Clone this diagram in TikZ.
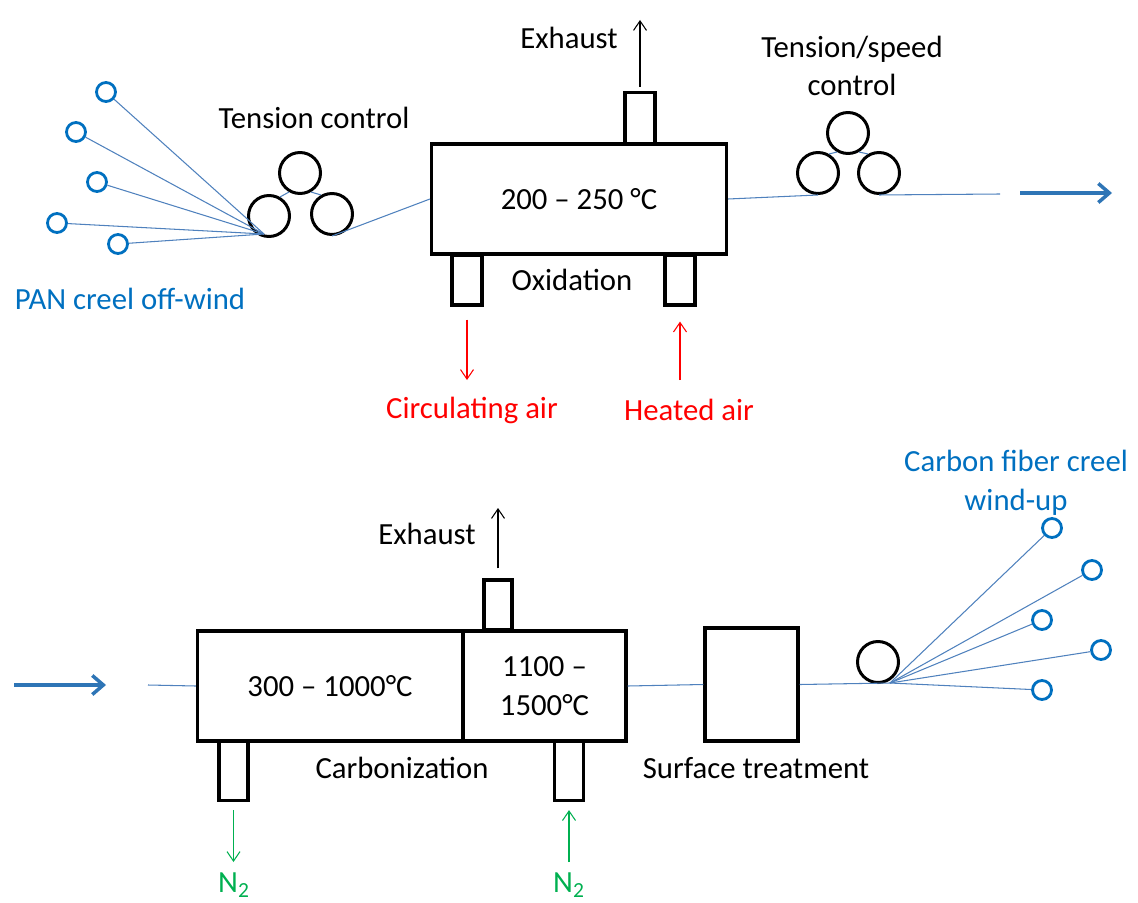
\documentclass[tikz,border=0pt]{standalone}
\usepackage{fontspec}
\setmainfont{Carlito}
\usetikzlibrary{arrows.meta}
\usetikzlibrary{positioning}
\definecolor{creelblue}{RGB}{0,112,192}
\definecolor{fiberblue}{RGB}{79,129,189}
\definecolor{feedblue}{RGB}{46,117,182}
\definecolor{airred}{RGB}{255,0,0}
\definecolor{gasgreen}{RGB}{0,176,80}

\begin{document}
\begin{tikzpicture}[x=0.02cm,y=-0.02cm,>={Straight Barb[length=1.9mm,width=2.6mm]},
    every node/.style={font=\fontsize{17.5}{22}\selectfont},
    oven box/.style={rectangle,draw,line width=1.8pt,inner sep=0pt},
    roller node/.style={circle,draw,line width=1.7pt,inner sep=0pt,minimum size=0.82cm},
    creel node/.style={circle,draw=creelblue,line width=1.6pt,inner sep=0pt,minimum size=0.38cm},
    fiber line/.style={-,color=fiberblue,line width=0.6pt},
    feed arrow/.style={-{Straight Barb[length=2.2mm,width=3.8mm]},color=feedblue,line width=2pt},
    exhaust arrow/.style={->,line width=0.6pt},
    air arrow/.style={->,color=airred,line width=0.6pt},
    gas arrow/.style={->,color=gasgreen,line width=0.6pt}]
  \useasboundingbox (0,0) rectangle (1138,902);

  % oxidation line
  \begin{scope}
    \node[creel node] (p1) at (106,92) {};
    \node[creel node] (p2) at (76,132) {};
    \node[creel node] (p3) at (97,182) {};
    \node[creel node] (p4) at (57,223) {};
    \node[creel node] (p5) at (118,244) {};
    \coordinate (pin) at (264,234);
    \node[roller node] (tl) at (269,216) {};
    \node[roller node] (tt) at (300,173) {};
    \node[roller node] (tr) at (332,214) {};
    \node (tctxt) at (314,118) {Tension control};
    \node[text=creelblue] (pantxt) at (130,299) {PAN creel off-wind};

    \node[oven box,minimum width=0.6cm,minimum height=1.02cm] (oxtop) at (640,118) {};
    \node[oven box,minimum width=0.6cm,minimum height=1.0cm] (oxlegl) at (467,280) {};
    \node[oven box,minimum width=0.6cm,minimum height=1.0cm] (oxlegr) at (680,280) {};
    \node[oven box,fill=white,minimum width=5.9cm,minimum height=2.2cm] (ox) at (579,199) {200 -- 250 °C};
    \node (oxtxt) at (572,280) {Oxidation};
    \node (oxexhtxt) at (569,38) {Exhaust};
    \coordinate (oxexh) at (640,20);
    \node[text=airred] (circtxt) at (472,410) {Circulating air};
    \node[text=airred] (heattxt) at (689,410) {Heated air};
    \coordinate (circout) at (467,380);
    \coordinate (heatin) at (680,380);

    \node[roller node] (sl) at (818,173) {};
    \node[roller node] (st) at (848,133) {};
    \node[roller node] (sr) at (879,173) {};
    \node[align=center] (tstxt) at (852,66) {Tension/speed\\control};
    \coordinate (oxend) at (1000,194);
    \coordinate (feeda) at (1020,193);
    \coordinate (feedb) at (1112,193);

    \path[fiber line] (p1) edge (pin) (p2) edge (pin) (p3) edge (pin)
      (p4) edge (pin) (p5) edge (pin);
    \path[fiber line] (tl.60) edge (tt.240) (tt.300) edge (tr.120);
    \path[fiber line] (tr.south) edge (ox.west);
    \path[fiber line] (ox.east) edge (sl.south);
    \path[fiber line] (sl.60) edge (st.240) (st.300) edge (sr.120);
    \path[fiber line] (sr.south) edge (oxend);
    \path[feed arrow] (feeda) edge (feedb);
    \path[exhaust arrow] (oxtop) edge[shorten <=0.08cm] (oxexh);
    \path[air arrow] (oxlegl) edge[shorten <=0.26cm] (circout);
    \path[air arrow] (heatin) edge[shorten >=0.3cm] (oxlegr);
  \end{scope}

  % carbonization line
  \begin{scope}
    \coordinate (feedc) at (14,685);
    \coordinate (feedd) at (106,685);
    \coordinate (czin) at (148,685);
    \node[oven box,minimum width=0.56cm,minimum height=1.0cm] (cztop) at (498,605) {};
    \node[oven box,minimum width=0.58cm,minimum height=1.18cm] (czl) at (233.5,771) {};
    \node[oven box,minimum width=0.58cm,minimum height=1.18cm] (czr) at (569,771) {};
    \node[oven box,fill=white,minimum width=5.3cm,minimum height=2.2cm] (cz1) at (330,686) {300 -- 1000°C};
    \node[oven box,fill=white,minimum width=3.26cm,minimum height=2.2cm,align=center] (cz2) at (544.5,686) {1100 --\\1500°C};
    \node (cztxt) at (402,768) {Carbonization};
    \node (czexhtxt) at (427,534) {Exhaust};
    \coordinate (czexh) at (498,508);
    \node[text=gasgreen] (n2a) at (234,885) {N\textsubscript{2}};
    \node[text=gasgreen] (n2b) at (569,885) {N\textsubscript{2}};
    \coordinate (n2out) at (233.5,862);
    \coordinate (n2in) at (569,862);

    \node[oven box,minimum width=1.86cm,minimum height=2.26cm] (surf) at (751.5,684.5) {};
    \node (surftxt) at (756,768) {Surface treatment};
    \node[roller node] (wr) at (878,662) {};
    \coordinate (wout) at (890,683);
    \node[creel node] (w1) at (1052,528) {};
    \node[creel node] (w2) at (1092,570) {};
    \node[creel node] (w3) at (1042,620) {};
    \node[creel node] (w4) at (1101,650) {};
    \node[creel node] (w5) at (1042,690) {};
    \node[text=creelblue,align=center] (cftxt) at (1016,483) {Carbon fiber creel\\wind-up};

    \path[feed arrow] (feedc) edge (feedd);
    \path[fiber line] (czin) edge (cz1.west);
    \path[fiber line] (cz2.east) edge (surf.west);
    \path[fiber line] (surf.east) edge (wout);
    \path[fiber line] (wout) edge (w1) (wout) edge (w2) (wout) edge (w3)
      (wout) edge (w4) (wout) edge (w5);
    \path[exhaust arrow] (cztop) edge[shorten <=0.2cm] (czexh);
    \path[gas arrow] (czl) edge[shorten <=0.16cm] (n2out);
    \path[gas arrow] (n2in) edge[shorten >=0.16cm] (czr);
  \end{scope}
\end{tikzpicture}
\end{document}
